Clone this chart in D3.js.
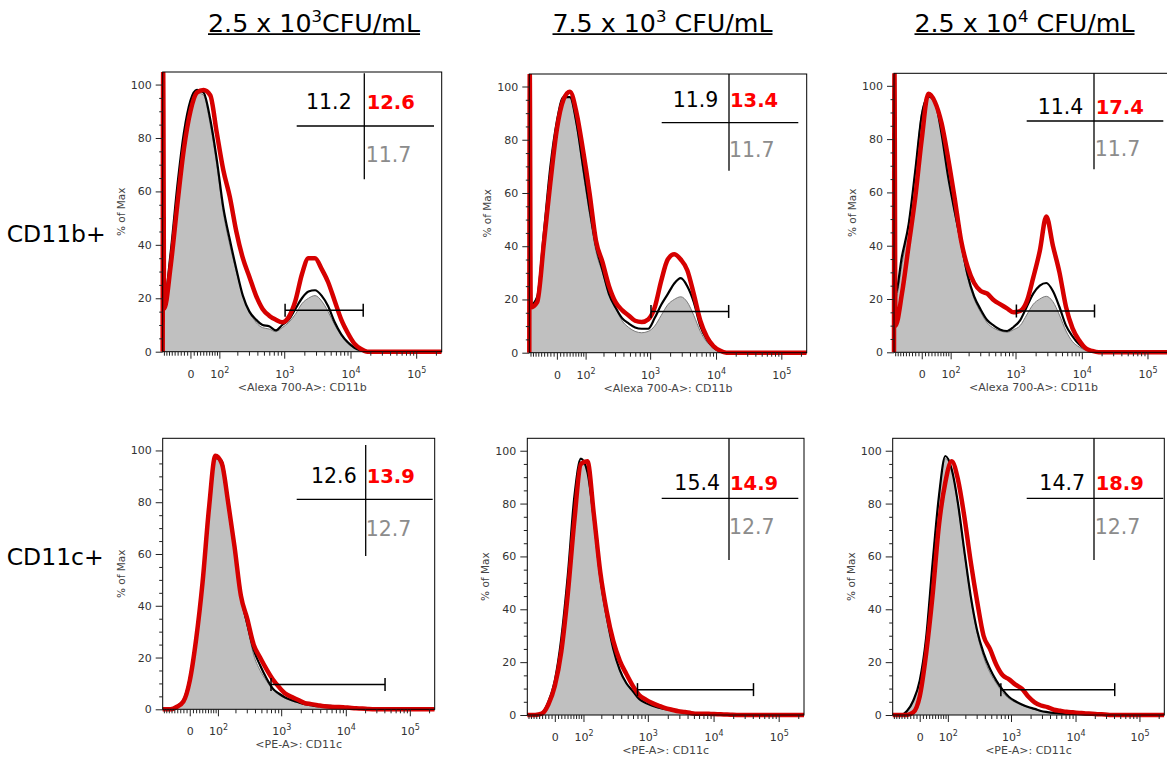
<!DOCTYPE html>
<html><head><meta charset="utf-8">
<script src="https://cdn.jsdelivr.net/npm/d3@7"></script>
<style>
body{margin:0;background:#fff;}
svg{display:block;font-family:"DejaVu Sans",sans-serif;}
</style></head><body>
<svg id="chart" width="1167" height="760"></svg>
<script>
// ================= DATA =================
const titleMantissa = ["2.5 x 10", "7.5 x 10", "2.5 x 10"];
const titleExponent = ["3", "3", "4"];
const titleUnit = ["CFU/mL", " CFU/mL", " CFU/mL"];
const rowLabels = ["CD11b+", "CD11c+"];
const axisTitles = ["<Alexa 700-A>: CD11b", "<PE-A>: CD11c"];
const yAxisTitle = "% of Max";

const xTickValues = [0, 100, 1000, 10000, 100000];
const xTickBase = ["0", "10", "10", "10", "10"];
const xTickExp = ["", "2", "3", "4", "5"];
const xMinorTicks = [-90,-80,-70,-60,-50,-40,-30,-20,-10,10,20,30,40,50,60,70,80,90,
  200,300,400,500,600,700,800,900,2000,3000,4000,5000,6000,7000,8000,9000,
  20000,30000,40000,50000,60000,70000,80000,90000,200000];
const yTickValues = [0, 20, 40, 60, 80, 100];
const yMinorTicks = [5,10,15,25,30,35,45,50,55,65,70,75,85,90,95];
const xDomain = [-95, 245000];
const yDomain = [0, 104.7];

// histogram bin centres (fluorescence intensity)
const binCenters = [-95, -93, -89, -64, -41, -20, 0, 20, 41, 64, 89, 118, 152, 193, 243, 305, 382,
  478, 597, 747, 934, 1170, 1467, 1840, 2309, 2899, 3642, 4577, 5755, 7235, 9100, 11448, 14405,
  18126, 22812, 28710, 36135, 45482, 57251, 72066, 90716, 114195, 143750, 180969, 227827, 245000];

// CD11b row (control = grey filled, black, red)
const ctrlB1 = [18,18, 18,35,60,80,93, 97,96,85,70,52, 40,30,21,15,11, 9,8.5,7.5,9,11, 14,18,20,21,19, 15,10,6,3,1.5, 0.5, 0,0,0,0,0,0,0,0,0,0,0,0,0];
const blackB1 = [19,19, 19,37,62,82,94, 98,97,87,72,54, 42,31,21,15,12, 10,9.5,8,10,12, 16,20,22.5,23,21, 17,11,6.5,3.5,1.5, 0.5, 0,0,0,0,0,0,0,0,0,0,0,0,0];
const redB1   = [0,105, 16,32,55,76,90, 97,98,96,82,68, 58,45,35,28,21, 16,13.5,12,11,13, 19,29,35,35,31, 26,19,12,7,3, 1, 0,0,0,0,0,0,0,0,0,0,0,0,0];

const ctrlB2  = [18,18, 18,20,44,68,86, 95,96,85,68,52, 38,30,22,17,12, 9.5,8,7.5,8,10, 14,18,20,21,19, 14,8,4,2,0.5, 0, 0,0,0,0,0,0,0,0,0,0,0,0,0];
const blackB2 = [18,18, 18,21,45,70,87, 96,96,86,70,54, 40,31,22,17,13, 11,9.5,9,9,13, 18,22,26,28,25, 19,10,5,2,0.5, 0, 0,0,0,0,0,0,0,0,0,0,0,0,0];
const redB2   = [0,105, 17,19,41,64,84, 95,98,90,76,60, 42,34,25,19,16, 14,12,11.5,12.5,17, 27,35,37,35,31, 22,12,6,2.5,0.8, 0, 0,0,0,0,0,0,0,0,0,0,0,0,0];

const ctrlB3  = [20,20, 20,33,48,68,90, 96,93,84,68,52, 40,28,20,15,11, 9,8,7.5,8.5,10, 14,18,20,21,19, 14,8,4,2,0.8, 0.3, 0,0,0,0,0,0,0,0,0,0,0,0,0];
const blackB3 = [22,22, 22,36,48,68,89, 96,94,82,66,53, 41,29,21,16,12, 10,8.5,8,9.5,12, 17,22,25,26,23, 17,10,6,3,1.2, 0.5, 0,0,0,0,0,0,0,0,0,0,0,0,0];
const redB3   = [0,105, 10,22,40,58,80, 97,94,86,73,58, 42,32,26,23,22, 19.5,18,16.5,15,15.5, 19,28,38,51,40, 30,17,9,4.5,1.5, 0.5, 0,0,0,0,0,0,0,0,0,0,0,0,0];

// CD11c row
const ctrlC1  = [0,0, 0,0,1,3.5,12, 28,50,79,97,95, 79,61,43,32,21, 15,11,7.5,5.5,4.2, 3.2,2.5,2,1.5,1.2, 1.2,1,0.8,0.6,0.4, 0.2,0.1,0,0,0, 0,0,0,0,0,0,0,0,0];
const blackC1 = [0,0, 0,0,1.2,3.5,12, 28,50,79,97,96, 80,62,44,33,23, 17,12,8,6,4.5, 3.5,2.7,2,1.6,1.2, 1.5,1.3,1,0.7,0.4, 0.2,0.1,0,0,0, 0,0,0,0,0,0,0,0,0];
const redC1   = [0,0, 0,0,1,3,11, 27,49,78,98,95, 80,63,44,35,25, 20,15.5,11.5,8.5,6, 4.7,3.6,2.4,2,1.6, 1.2,1,0.9,0.8,0.6, 0.4,0.3,0.1,0,0, 0,0,0,0,0,0,0,0,0];

const ctrlC2  = [0,0, 0,0,0.8,5,13, 28,52,82,96,92, 74,52,37,25,16.5, 12,9,6,4.5,3.5, 2.8,2.2,1.8,1.4,1.1, 0.8,0.6,0.5,0.4,0.3, 0.2,0.1,0,0,0, 0,0,0,0,0,0,0,0,0];
const blackC2 = [0,0, 0,0,0.8,5,13, 29,53,83,97,92, 74,52,37,25,17, 12,9,6,4.5,3.5, 2.8,2.2,1.8,1.4,1.1, 0.8,0.6,0.5,0.4,0.3, 0.2,0.1,0,0,0, 0,0,0,0,0,0,0,0,0];
const redC2   = [0,0, 0,0,0.5,4,11, 24,46,74,95,96, 76,54,39,28,20.5, 15.5,11,7.5,5.8,4.5, 3.5,2.6,2,1.4,1.1, 0.7,0.5,0.5,0.4,0.3, 0.2,0.1,0,0,0, 0,0,0,0,0,0,0,0,0];

const ctrlC3  = [0,0, 0,0,1.5,5.5,13, 29,57,83,97,93, 79,61,44,31,22, 16,12,8.5,6.2,4.8, 3.7,2.8,2.1,1.4,1, 0.7,0.5,0.4,0.3,0.2, 0.1,0,0,0,0, 0,0,0,0,0,0,0,0,0];
const blackC3 = [0,0, 0,0,1.5,5.5,13, 29,57,83,98,93, 80,62,45,32,23.5, 17.5,13,9.5,6.8,5.2, 4,3,2.3,1.5,1.1, 0.8,0.6,0.5,0.4,0.3, 0.2,0.1,0,0,0, 0,0,0,0,0,0,0,0,0];
const redC3   = [0,0, 0,0,0,1,7, 23,45,72,88,96, 89,75,58,43,30, 25,19,15,13.5,11.5, 10,7,4.8,3.6,3, 2,1.6,1.2,1,0.8, 0.6,0.5,0.3,0.2,0, 0,0,0,0,0,0,0,0,0];

// percentages printed in each panel
const pctBlack = ["11.2", "11.9", "11.4", "12.6", "15.4", "14.7"];
const pctRed   = ["12.6", "13.4", "17.4", "13.9", "14.9", "18.9"];
const pctGray  = ["11.7", "11.7", "11.7", "12.7", "12.7", "12.7"];

// gate bars (intensity range, level in % of max) per row
const gateRange = [[1030, 15600], [700, 41000]];
const gateLevel = [15.5, 9.6];

// ================= LAYOUT =================
const panels = [
  {left:162.7, width:279,   top:72,    y0:351.7},
  {left:529.3, width:277.4, top:74,    y0:352.7},
  {left:894,   width:279,   top:73.3,  y0:352.3},
  {left:162.7, width:272,   top:438.3, y0:709.3},
  {left:527.3, width:276.7, top:438.3, y0:715},
  {left:892.7, width:271.6, top:438.3, y0:715}
];
const annot = [
  {vx:201.6, vt:1.3, vb:107.3, hy:54,   hx1:134,   hx2:271.3, ne:189,   ny:37.3, rs:204,   gy:89.7},
  {vx:199.7, vt:0,   vb:96.7,  hy:48.7, hx1:132.4, hx2:269,   ne:189,   ny:33.3, rs:200.7, gy:83.3},
  {vx:200,   vt:0,   vb:96,    hy:47.7, hx1:132.7, hx2:269.3, ne:189.3, ny:41,   rs:201.7, gy:82.7},
  {vx:203,   vt:6.7, vb:117.7, hy:61,   hx1:134,   hx2:270,   ne:194,   ny:45,   rs:204,   gy:97.7},
  {vx:201.7, vt:0,   vb:121.7, hy:60,   hx1:134.4, hx2:271,   ne:192.7, ny:51.7, rs:202.7, gy:95.7},
  {vx:201.3, vt:0,   vb:121.7, hy:60,   hx1:134,   hx2:270.6, ne:192.3, ny:51.7, rs:203,   gy:95.7}
];
const titleX = [314, 662.5, 1024.5];
const rowLabelY = [241.7, 565];

const seriesByPanel = [
  [ctrlB1, blackB1, redB1], [ctrlB2, blackB2, redB2], [ctrlB3, blackB3, redB3],
  [ctrlC1, blackC1, redC1], [ctrlC2, blackC2, redC2], [ctrlC3, blackC3, redC3]
];

// ============ logicle-like display transform ============
const LA = 36.1, LP = 1.4;
function logicle(v) {
  const s = v < 0 ? -1 : 1, a = Math.abs(v);
  let lo = 0, hi = 7;
  for (let i = 0; i < 60; i++) {
    const m = (lo + hi) / 2;
    const f = LA * (Math.pow(10, m) - LP * LP * Math.pow(10, -m / LP) + LP * LP - 1);
    if (f < a) lo = m; else hi = m;
  }
  return s * (lo + hi) / 2;
}

const svg = d3.select("#chart");
const defs = svg.append("defs");

// column titles
titleMantissa.forEach((m, i) => {
  const t = svg.append("text").attr("x", titleX[i]).attr("y", 31.7)
    .attr("text-anchor", "middle").attr("font-size", 25.3).attr("fill", "#000");
  t.append("tspan").text(m);
  t.append("tspan").attr("dy", -10).attr("font-size", 16.5).text(titleExponent[i]);
  t.append("tspan").attr("dy", 10).text(titleUnit[i]);
  const bb = t.node().getBBox();
  svg.append("line").attr("x1", bb.x).attr("x2", bb.x + bb.width)
    .attr("y1", 34.2).attr("y2", 34.2).attr("stroke", "#000").attr("stroke-width", 1.8);
});

// row labels
rowLabels.forEach((r, i) => {
  svg.append("text").attr("x", 6.7).attr("y", rowLabelY[i])
    .attr("font-size", 23.5).attr("fill", "#000").text(r);
});

panels.forEach((P, i) => {
  const row = i < 3 ? 0 : 1;
  const g = svg.append("g");
  const xz = d3.scaleLinear().domain([logicle(xDomain[0]), logicle(xDomain[1])])
    .range([P.left, P.left + P.width]);
  const x = v => xz(logicle(v));
  const y = d3.scaleLinear().domain(yDomain).range([P.y0, P.top]);

  const cid = "clip" + i;
  defs.append("clipPath").attr("id", cid).append("rect")
    .attr("x", P.left - 3).attr("y", P.top)
    .attr("width", P.width + 3).attr("height", P.y0 - P.top + 3);

  const [ctrl, blk, red] = seriesByPanel[i];
  const pts = s => binCenters.map((b, k) => [b, s[k]]);
  const line = d3.line().x(d => x(d[0])).y(d => y(d[1])).curve(d3.curveMonotoneX);
  const area = d3.area().x(d => x(d[0])).y0(y(0)).y1(d => y(d[1])).curve(d3.curveMonotoneX);

  const cg = g.append("g").attr("clip-path", `url(#${cid})`);
  cg.append("path").datum(pts(ctrl)).attr("d", area).attr("fill", "#c0c0c0");
  cg.append("path").datum(pts(ctrl)).attr("d", line).attr("fill", "none")
    .attr("stroke", "#7a7a7a").attr("stroke-width", 1);
  cg.append("path").datum(pts(blk)).attr("d", line).attr("fill", "none")
    .attr("stroke", "#000").attr("stroke-width", 2.2).attr("stroke-linejoin", "round");
  cg.append("path").datum(pts(red)).attr("d", line).attr("fill", "none")
    .attr("stroke", "#d60000").attr("stroke-width", 4.5).attr("stroke-linejoin", "round");

  // frame
  g.append("rect").attr("x", P.left).attr("y", P.top).attr("width", P.width)
    .attr("height", P.y0 - P.top).attr("fill", "none").attr("stroke", "#000").attr("stroke-width", 1);

  // x axis
  const xMaj = g.append("g").attr("transform", `translate(0,${P.y0})`)
    .call(d3.axisBottom(xz).tickValues(xTickValues.map(logicle)).tickSize(7).tickFormat(""));
  xMaj.select(".domain").remove();
  xMaj.selectAll(".tick line").attr("stroke", "#222");
  xMaj.selectAll(".tick text").each(function (d, k) {
    const t = d3.select(this);
    t.attr("y", 26).attr("dy", 0).attr("font-size", 11).attr("fill", "#333")
      .attr("font-family", "DejaVu Sans");
    t.append("tspan").text(xTickBase[k]);
    if (xTickExp[k]) t.append("tspan").attr("dy", -5).attr("font-size", 8).text(xTickExp[k]);
  });
  const xMin = g.append("g").attr("transform", `translate(0,${P.y0})`)
    .call(d3.axisBottom(xz).tickValues(xMinorTicks.map(logicle)).tickSize(4).tickFormat(""));
  xMin.select(".domain").remove();
  xMin.selectAll(".tick line").attr("stroke", "#222");

  g.append("text").attr("x", P.left + P.width / 2).attr("y", P.y0 + 39)
    .attr("text-anchor", "middle").attr("font-size", 11).attr("fill", "#444")
    .text(axisTitles[row]);

  // y axis
  const yMaj = g.append("g").attr("transform", `translate(${P.left},0)`)
    .call(d3.axisLeft(y).tickValues(yTickValues).tickSize(7).tickPadding(4));
  yMaj.select(".domain").remove();
  yMaj.selectAll(".tick line").attr("stroke", "#222");
  yMaj.selectAll(".tick text").attr("font-size", 11).attr("fill", "#333")
    .attr("font-family", "DejaVu Sans");
  const yMin = g.append("g").attr("transform", `translate(${P.left},0)`)
    .call(d3.axisLeft(y).tickValues(yMinorTicks).tickSize(3.5).tickFormat(""));
  yMin.select(".domain").remove();
  yMin.selectAll(".tick line").attr("stroke", "#222");

  g.append("text")
    .attr("transform", `translate(${P.left - 38},${(P.top + P.y0) / 2}) rotate(-90)`)
    .attr("text-anchor", "middle").attr("font-size", 10.5).attr("fill", "#444")
    .text(yAxisTitle);

  // gate bar
  const gr = gateRange[row], gy = y(gateLevel[row]);
  const gx1 = x(gr[0]), gx2 = x(gr[1]);
  g.append("line").attr("x1", gx1).attr("x2", gx2).attr("y1", gy).attr("y2", gy)
    .attr("stroke", "#000").attr("stroke-width", 1.5);
  [gx1, gx2].forEach(gx => g.append("line").attr("x1", gx).attr("x2", gx)
    .attr("y1", gy - 6.5).attr("y2", gy + 6.5).attr("stroke", "#000").attr("stroke-width", 1.5));

  // quadrant annotation
  const A = annot[i];
  g.append("line").attr("x1", P.left + A.vx).attr("x2", P.left + A.vx)
    .attr("y1", P.top + A.vt).attr("y2", P.top + A.vb).attr("stroke", "#000").attr("stroke-width", 1.3);
  g.append("line").attr("x1", P.left + A.hx1).attr("x2", P.left + A.hx2)
    .attr("y1", P.top + A.hy).attr("y2", P.top + A.hy).attr("stroke", "#000").attr("stroke-width", 1.3);
  g.append("text").attr("x", P.left + A.ne).attr("y", P.top + A.ny).attr("text-anchor", "end")
    .attr("font-size", 20.5).attr("fill", "#000").text(pctBlack[i]);
  g.append("text").attr("x", P.left + A.rs).attr("y", P.top + A.ny)
    .attr("font-size", 19.5).attr("font-weight", "bold").attr("fill", "#ff0000").text(pctRed[i]);
  g.append("text").attr("x", P.left + A.rs - 1).attr("y", P.top + A.gy)
    .attr("font-size", 20.5).attr("fill", "#8c8c8c").text(pctGray[i]);
});
</script>
</body></html>
